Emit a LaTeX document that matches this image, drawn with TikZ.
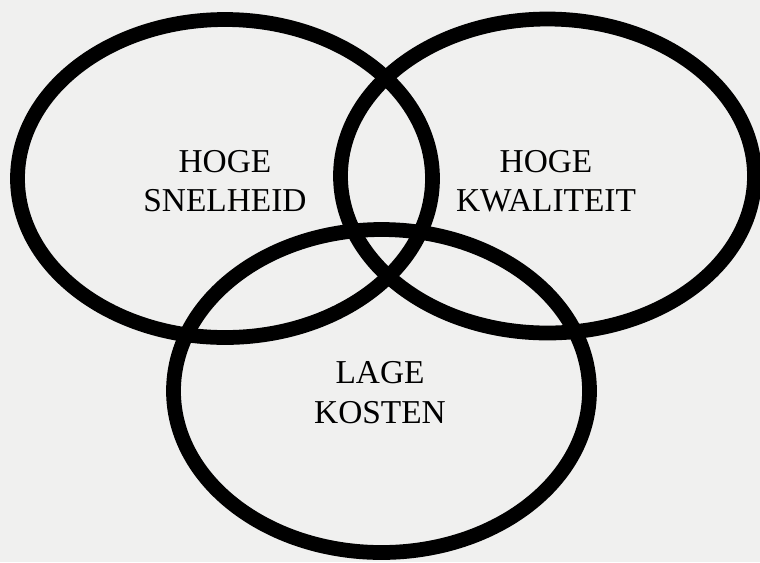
\documentclass[tikz,border=0pt]{standalone}
\usepackage{fontspec}
\setmainfont{Liberation Serif}
\usepackage{xcolor}
\usepackage{tikz}
\usetikzlibrary{positioning, calc}

\definecolor{scanpaper}{RGB}{240,240,239}

\begin{document}
\begin{tikzpicture}[
  x=0.02cm, y=-0.02cm,
  ring/.style={draw=black, line width=8.4pt},
  goal/.style={align=center, font=\fontsize{19}{22.5}\selectfont, inner sep=0pt},
]
  % paper
  \useasboundingbox (0,0) rectangle (760,562);
  \fill[scanpaper] (0,0) rectangle (760,562);

  % circle centres
  \coordinate (speed) at (225,178.5);
  \coordinate (quality) at (547.5,176);
  \coordinate (cost) at (381.5,391);

  % rings
  \draw[ring] (speed) ellipse [x radius=207.5, y radius=159];
  \draw[ring] (quality) ellipse [x radius=207, y radius=157];
  \draw[ring] (cost) ellipse [x radius=208, y radius=161.5];

  % labels
  \node[goal] (speedlbl) at (225,181) {HOGE\\SNELHEID};
  \node[goal] (qualitylbl) at (546,181) {HOGE\\KWALITEIT};
  \node[goal] (costlbl) at (380,392.5) {LAGE\\KOSTEN};
\end{tikzpicture}
\end{document}
